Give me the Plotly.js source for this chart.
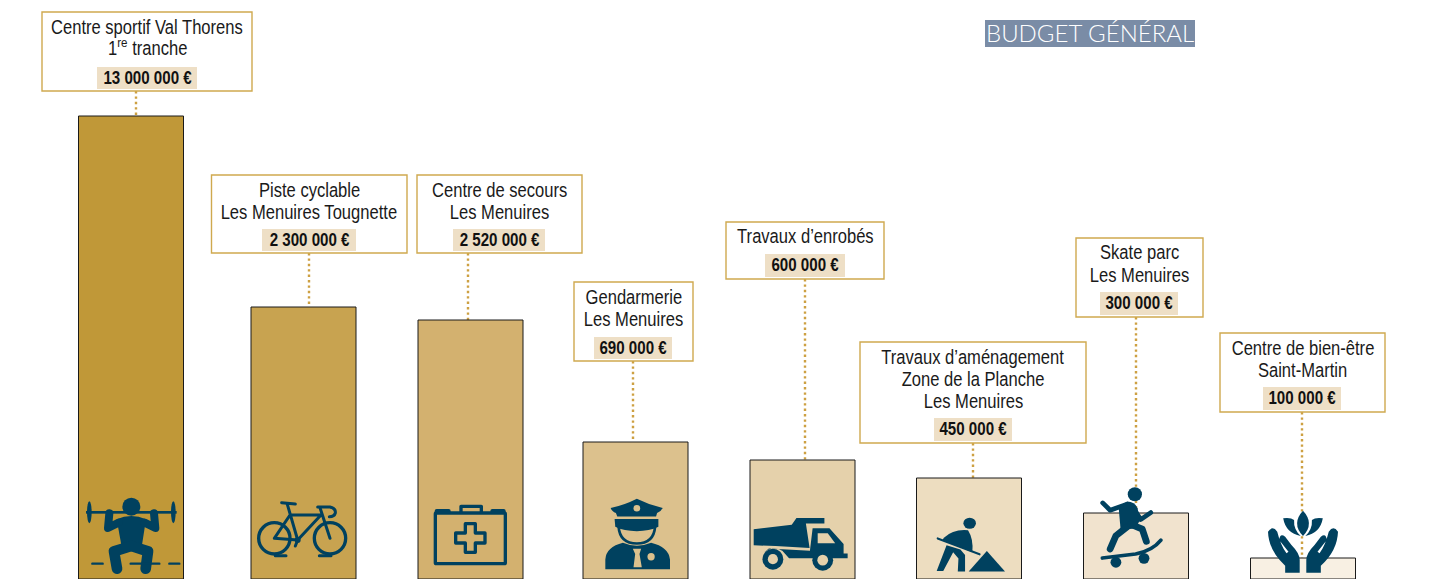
<!DOCTYPE html>
<html lang="fr">
<head>
<meta charset="utf-8">
<title>Budget général</title>
<script src="https://cdn.plot.ly/plotly-3.0.1.min.js"></script>
<style>html,body{margin:0;padding:0;background:#fff;overflow:hidden}#chart{width:1429px;height:579px}</style>
</head>
<body>
<div id="chart"></div>
<script>
// ---- Data ----
const projects = [
  "Centre sportif Val Thorens<br>1<sup>re</sup> tranche",
  "Piste cyclable<br>Les Menuires Tougnette",
  "Centre de secours<br>Les Menuires",
  "Gendarmerie<br>Les Menuires",
  "Travaux d’enrobés",
  "Travaux d’aménagement<br>Zone de la Planche<br>Les Menuires",
  "Skate parc<br>Les Menuires",
  "Centre de bien-être<br>Saint-Martin"
];
const amounts = ["13 000 000 €","2 300 000 €","2 520 000 €","690 000 €","600 000 €","450 000 €","300 000 €","100 000 €"];
// The picture's bars are not proportional to the amounts: these are the drawn heights above the crop's lower edge.
const barHeights = [463, 272, 259, 137, 119, 101, 66, 21];

// ---- Styles and placement ----
const W = 1429, H = 579;
const barColors = ["#C09838","#C8A350","#D3B16F","#DCC18D","#E5D1AB","#EDDDC0","#F1E3CE","#F8F0E3"];
const navy = "#00415F", gold = "#CFA94F", beige = "#EEDFC6", ink = "#1A1A1A";
const barLefts = [78.5, 251, 418, 583, 750, 916.5, 1083.5, 1250.5];
const barPx = 105;
const boxes = [[42,12,252,91],[211.5,175,407,253],[417,175,582,253],[574,282,693,361],[726,222,884,279],[860,342,1086,443],[1076,238,1203,317],[1220,333,1385,412]];
const chips = [[97,67,197,89],[262,229,356,251],[453,229,545,251],[594,337,672,359],[765,254,845,277],[934,418,1012,441],[1100,292,1178,315],[1263,387,1341,410]];
const stems = [[136,116],[309,307],[468,320],[633,442],[805,460],[973,478],[1136,513],[1302,558]];
const textFont = '"Liberation Sans",sans-serif';
const px = x => x / W, py = y => 1 - y / H;

const r0 = -0.828, r1 = 7.765, scale = W / (r1 - r0);
const widths = barLefts.map(() => barPx / scale);
const offsets = barLefts.map((l, i) => (l - (i - r0) * scale) / scale);

// ---- Icons ----
const svg = (vb, body) => 'data:image/svg+xml;charset=utf-8,' + encodeURIComponent(
  `<svg xmlns="http://www.w3.org/2000/svg" viewBox="${vb}" fill="${navy}" stroke-linecap="round" stroke-linejoin="round">${body}</svg>`);
const S = (d, w) => `<path d="${d}" fill="none" stroke="${navy}" stroke-width="${w}"/>`;
const handPath = "M626 185Q628 242 678 287V308H722V270Q722 250 697 225L678 200Q662 188 660 210L688 245L682 250Q664 225 654 185Q640 165 626 185Z";

const icons = [
 {x:85, y:496, w:96, h:80, vb:"75 48 288 240", src:`
   <circle cx="214" cy="80" r="27"/><rect x="78" y="93" width="272" height="8"/>
   <ellipse cx="88" cy="97" rx="7" ry="33"/><ellipse cx="340" cy="97" rx="7" ry="33"/>
   <path d="M170 118Q214 98 258 118L246 195H184Z"/>
   ${S("M148 100L144 144L176 128",24)}${S("M282 100L286 144L254 128",24)}
   ${S("M171 266L162 214L214 198L264 214L257 266",32)}
   ${S("M97 251H128",7)}${S("M212 251H298",7)}${S("M328 251H358",7)}`},
 {x:256, y:500, w:94, h:60, vb:"590 65 282 180", src:`
   <g fill="none" stroke="${navy}"><circle cx="645" cy="180" r="47" stroke-width="10"/><circle cx="812" cy="180" r="47" stroke-width="10"/>
   <path stroke-width="9" d="M684 78L715 185M692 110H785M785 110L715 185L645 180L692 110M782 88L812 180"/>
   <path stroke-width="9" d="M667 73L708 77M775 86H812Q830 90 828 104Q825 115 810 115M648 232H680M780 232H815M715 185L708 203"/></g>
   <circle cx="715" cy="185" r="9"/>`},
 {x:433, y:503, w:76, h:64, vb:"1120 70 228 192", src:`
   <g fill="none" stroke="${navy}" stroke-width="10"><rect x="1127" y="100" width="210" height="152" rx="3"/>
   <path d="M1204 98V80H1265V98"/>
   <path d="M1217 132H1247V160H1276V190H1247V218H1217V190H1188V160H1217Z"/></g>
   <rect x="1125" y="88" width="48" height="14" rx="6"/><rect x="1292" y="88" width="46" height="14" rx="6"/>`},
 {x:603, y:498, w:68, h:73, vb:"95 55 205 220", src:`
   <path d="M118 85Q160 76 197 57Q235 76 275 85Q270 96 258 100L255 111H138L134 100Q122 96 118 85Z"/>
   <circle cx="197" cy="86" r="10" fill="${barColors[3]}"/>
   <path d="M130 118H262V142Q235 155 197 155Q158 155 132 142Z"/>
   ${S("M142 142Q146 192 197 192Q248 192 252 142",8)}
   <path d="M102 270V240Q105 202 155 190Q197 208 240 190Q292 202 297 240V270Z"/>
   <path d="M185 208H210L205 224L212 264H187L192 224Z" fill="${barColors[3]}"/>
   <circle cx="240" cy="232" r="11" fill="${barColors[3]}"/>`},
 {x:753, y:517, w:96, h:55, vb:"553 112 285 163", src:`
   <path d="M555 148L668 135L682 115H765V131H710L721 204L620 198L555 196Z"/>
   <path d="M730 145H780L822 192V220H834V234H660L640 212Q610 196 585 218L600 205L722 212Z"/>
   <path d="M745 160H775L797 190H745Z" fill="${barColors[4]}"/>
   <circle cx="612" cy="237" r="31"/><circle cx="612" cy="237" r="15" fill="${barColors[4]}"/>
   <circle cx="760" cy="240" r="31"/><circle cx="760" cy="240" r="16" fill="${barColors[4]}"/>`},
 {x:935, y:517, w:71, h:56, vb:"1095 112 215 162", src:`
   <ellipse cx="1200" cy="130" rx="19" ry="16"/>
   <path d="M1122 172Q1150 146 1195 150Q1212 175 1208 214L1118 178Z"/>
   <path d="M1130 194L1100 268H1120L1150 214L1166 232L1164 270H1186L1186 222L1172 206Z"/>
   ${S("M1103 174L1230 220",6)}<path d="M1197 270L1252 210L1307 270Z"/>`},
 {x:1100, y:486, w:66, h:82, vb:"125 45 195 247", src:`
   <circle cx="228" cy="70" r="21"/>
   ${S("M133 96L155 118L205 100",14)}${S("M228 118L245 146L275 125",14)}
   <path d="M180 108L205 92Q228 92 236 112L242 150L230 172L186 178Z"/>
   ${S("M205 168L172 195L155 235",20)}${S("M215 160L250 175L262 212",20)}
   ${S("M132 262L230 250Q280 240 305 208",11)}
   <circle cx="172" cy="275" r="16"/><circle cx="255" cy="263" r="16"/>`},
 {x:1268, y:510, w:70, h:64, vb:"626 120 212 192", src:`
   <path d="M732 122Q768 160 732 198Q696 160 732 122Z"/>
   <path d="M672 145Q695 142 705 150Q703 178 725 198Q680 190 672 145Z"/>
   <path d="M792 145Q769 142 759 150Q761 178 739 198Q784 190 792 145Z"/>
   <path d="${handPath}"/>
   <path transform="translate(1464 0) scale(-1 1)" d="${handPath}"/>`}
];

// ---- Chart ----
const trace = {
  type: "bar",
  x: projects,
  y: barHeights,
  width: widths,
  offset: offsets,
  marker: { color: barColors, line: { color: ink, width: 1 } },
  hoverinfo: "skip"
};

const shapes = [];
projects.forEach((p, i) => {
  const [sx, sy] = stems[i], b = boxes[i], c = chips[i];
  shapes.push({ type:"line", layer:"below", xref:"paper", yref:"paper", x0:px(sx), x1:px(sx), y0:py(b[3]), y1:py(sy), line:{color:"#CDA042", width:2.4, dash:"2.4px 3px"} });
  shapes.push({ type:"rect", layer:"above", xref:"paper", yref:"paper", x0:px(b[0]), x1:px(b[2]), y0:py(b[1]), y1:py(b[3]), fillcolor:"#FFFFFF", line:{color:gold, width:1.4} });
  shapes.push({ type:"rect", layer:"above", xref:"paper", yref:"paper", x0:px(c[0]), x1:px(c[2]), y0:py(c[1]), y1:py(c[3]), fillcolor:beige, line:{width:0} });
});
shapes.push({ type:"rect", layer:"above", xref:"paper", yref:"paper", x0:px(985), x1:px(1195), y0:py(20), y1:py(47), fillcolor:"#7A8CA6", line:{width:0} });

const annotations = [];
const lineStep = 22.4;
projects.forEach((p, i) => {
  const b = boxes[i], c = chips[i];
  p.split("<br>").forEach((line, k) => {
    const supAdjust = line.includes("<sup>") ? -1.5 : 0;
    annotations.push({ xref:"paper", yref:"paper", x:px((b[0]+b[2])/2), y:py(b[1]+14.5+k*lineStep+supAdjust), xanchor:"center", yanchor:"middle", showarrow:false,
      text:line, align:"center", font:{family:textFont, size:19.5, color:ink}, name:"narrow-reg" });
  });
  annotations.push({ xref:"paper", yref:"paper", x:px((c[0]+c[2])/2), y:py((c[1]+c[3])/2-0.5), xanchor:"center", yanchor:"middle", showarrow:false,
    text:"<b>"+amounts[i]+"</b>", font:{family:textFont, size:18, color:"#111111"}, name:"narrow-bold" });
});
annotations.push({ xref:"paper", yref:"paper", x:px(1090), y:py(33), xanchor:"center", yanchor:"middle", showarrow:false,
  text:"BUDGET GÉNÉRAL", font:{family:"Lato, sans-serif", size:24, color:"#FFFFFF", weight:300} });

const images = icons.map(ic => ({ source: svg(ic.vb, ic.src), xref:"paper", yref:"paper", x:px(ic.x), y:py(ic.y), sizex:ic.w/W, sizey:ic.h/H,
  xanchor:"left", yanchor:"top", sizing:"stretch", layer:"above" }));

Plotly.newPlot("chart", [trace], {
  width: W, height: H,
  margin: { l:0, r:0, t:0, b:0, pad:0 },
  paper_bgcolor: "#FFFFFF", plot_bgcolor: "#FFFFFF",
  showlegend: false,
  xaxis: { type:"category", categoryorder:"array", categoryarray:projects, range:[r0, r1], visible:false, fixedrange:true },
  yaxis: { range:[0, H], visible:false, fixedrange:true },
  shapes, annotations, images
}, { displayModeBar:false, staticPlot:true }).then(() => {
  // The reference's labels use a condensed face: narrow the callout text around each line's centre.
  document.querySelectorAll("#chart .annotation-text").forEach((t, i) => {
    if (i >= annotations.length - 1) return;
    const cx = parseFloat(t.getAttribute("x")) || 0;
    const s = annotations[i].name === "narrow-bold" ? 0.84 : 0.85;
    t.setAttribute("transform", `translate(${cx} 0) scale(${s} 1) translate(${-cx} 0)`);
  });
});
</script>
</body>
</html>
